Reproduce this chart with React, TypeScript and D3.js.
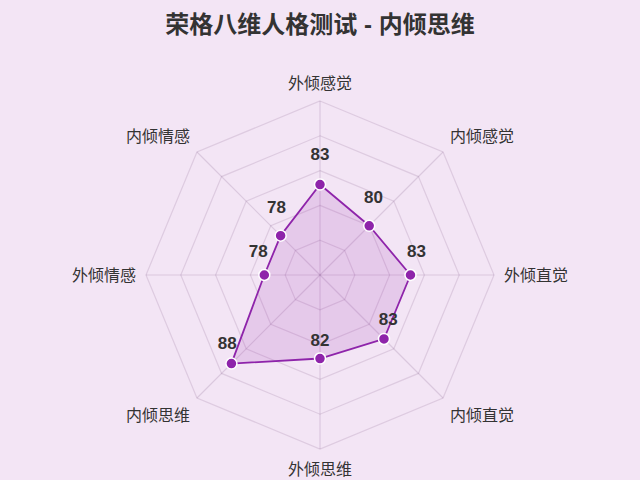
import React from 'react'
import * as d3 from 'd3'

// Jung eight functions, clockwise from the top
const axes = ['外倾感觉', '内倾感觉', '外倾直觉', '内倾直觉', '外倾思维', '内倾思维', '外倾情感', '内倾情感']
const scores = [83, 80, 83, 83, 82, 88, 78, 78]
const ringTicks = [75, 80, 85, 90, 95]
const scaleMin = 70
const scaleMax = 95
const title = '荣格八维人格测试 - 内倾思维'

const width = 640
const height = 480
const cx = 320
const cy = 275
const radius = 174

const purple = '#8e24aa'
const font = '"Liberation Sans", Arial, "Noto Sans CJK SC", sans-serif'

export default function App() {
  const r = d3.scaleLinear().domain([scaleMin, scaleMax]).range([0, radius])
  const angle = d3
    .scaleLinear()
    .domain([0, axes.length])
    .range([0, 2 * Math.PI])

  // unit vector for an axis index, 0 = straight up
  const dir = (i: number) => {
    const a = angle(i)
    return [Math.sin(a), -Math.cos(a)]
  }
  const pos = (i: number, rr: number) => {
    const [ux, uy] = dir(i)
    return [cx + ux * rr, cy + uy * rr]
  }

  const ringPath = (v: number) =>
    d3.line()(axes.map((_, i) => pos(i, r(v)) as [number, number])) + 'Z'

  const dataPts = scores.map((v, i) => pos(i, r(v)) as [number, number])
  const areaPath = d3.line()(dataPts) + 'Z'

  return (
    <div style={{ position: 'absolute', left: 0, top: 0 }}>
      <svg width={width} height={height} style={{ display: 'block', fontFamily: font }}>
        <rect width={width} height={height} fill="#f3e5f5" />

        <text x={width / 2} y={24} textAnchor="middle" dominantBaseline="central"
          fontSize={24} fontWeight="bold" fill="#333">
          {title}
        </text>

        {/* grid rings */}
        {ringTicks.map(t => (
          <path key={t} d={ringPath(t)} fill="none" stroke="rgba(110,70,120,0.16)" strokeWidth={1.2} />
        ))}

        {/* angle lines */}
        {axes.map((_, i) => {
          const [x, y] = pos(i, radius)
          return <line key={i} x1={cx} y1={cy} x2={x} y2={y} stroke="rgba(110,70,120,0.18)" strokeWidth={1.2} />
        })}

        {/* axis labels */}
        {axes.map((name, i) => {
          const [ux, uy] = dir(i)
          const [x, y] = pos(i, radius + 10)
          const anchor = Math.abs(ux) < 0.01 ? 'middle' : ux > 0 ? 'start' : 'end'
          const shift = Math.abs(uy) < 0.01 ? 0 : uy < 0 ? -8 : 10
          return (
            <text key={name} x={x} y={y + shift} textAnchor={anchor} dominantBaseline="central"
              fontSize={16} fill="#333">
              {name}
            </text>
          )
        })}

        {/* data area */}
        <path d={areaPath} fill="rgba(156,39,176,0.15)" stroke={purple} strokeWidth={1.8} strokeLinejoin="round" />

        {dataPts.map(([x, y], i) => (
          <circle key={i} cx={x} cy={y} r={5.5} fill={purple} stroke="#fff" strokeWidth={1.5} />
        ))}

        {/* value labels */}
        {scores.map((v, i) => {
          const [ux, uy] = dir(i)
          const [x, y] = dataPts[i]
          return (
            <text key={i} x={x + ux * 6} y={y + uy * 6 - 24} textAnchor="middle" dominantBaseline="central"
              fontSize={17} fontWeight="bold" fill="#333">
              {v}
            </text>
          )
        })}
      </svg>
    </div>
  )
}
